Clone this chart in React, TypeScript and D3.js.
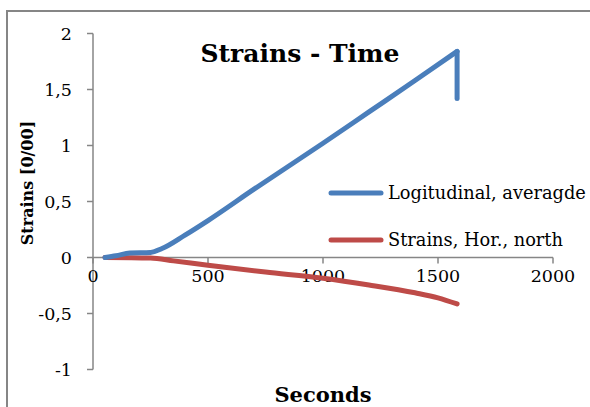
import React from "react";
import * as d3 from "d3";

// Time in seconds and measured strains (per mille)
const longTime = [52, 100, 160, 250, 300, 400, 500, 700, 1000, 1200, 1400, 1583, 1583];
const longStrain = [0, 0.015, 0.04, 0.045, 0.08, 0.2, 0.33, 0.61, 1.02, 1.3, 1.58, 1.84, 1.42];
const horTime = [52, 250, 350, 500, 750, 1000, 1200, 1400, 1500, 1583];
const horStrain = [0, -0.005, -0.03, -0.07, -0.13, -0.185, -0.245, -0.315, -0.36, -0.415];

const xTicks = [0, 500, 1000, 1500, 2000];
const yTicks = [-1, -0.5, 0, 0.5, 1, 1.5, 2];
const seriesNames = ["Logitudinal, averagde", "Strains, Hor., north"];
const seriesColors = ["#4A7EBB", "#BE4B48"];

const W = 590;
const H = 407;
const FONT = "'DejaVu Serif', serif";

export default function App() {
  const x = d3.scaleLinear().domain([0, 2000]).range([93, 553]);
  const y = d3.scaleLinear().domain([-1, 2]).range([369.5, 33.5]);
  const fmt = (v: number) => String(v).replace(".", ",");

  const smooth = d3
    .line<[number, number]>()
    .x((d) => x(d[0]))
    .y((d) => y(d[1]))
    .curve(d3.curveMonotoneX);
  const straight = d3
    .line<[number, number]>()
    .x((d) => x(d[0]))
    .y((d) => y(d[1]));

  const longPts: [number, number][] = longTime.map((t, i) => [t, longStrain[i]]);
  const horPts: [number, number][] = horTime.map((t, i) => [t, horStrain[i]]);
  // The final unloading drop is vertical; draw the rising part smoothly, then the drop
  const risePath = smooth(longPts.slice(0, -1)) || "";
  const dropPath = straight(longPts.slice(-2)) || "";
  const horPath = smooth(horPts) || "";

  const axisColor = "#868686";
  const lineProps = {
    fill: "none",
    strokeWidth: 5,
    strokeLinecap: "round" as const,
    strokeLinejoin: "round" as const,
  };

  return (
    <svg
      width={W}
      height={H}
      style={{ position: "absolute", left: 0, top: 0, background: "#fff" }}
    >
      {/* chart frame */}
      <rect x={7} y={11} width={W} height={H} fill="#fff" stroke={axisColor} strokeWidth={2} />

      {/* title */}
      <text x={300} y={62} textAnchor="middle" fontFamily={FONT} fontWeight="bold" fontSize={25}>
        Strains - Time
      </text>

      {/* y axis */}
      <line x1={x(0)} x2={x(0)} y1={y(-1)} y2={y(2)} stroke={axisColor} strokeWidth={1.5} />
      {yTicks.map((t) => (
        <g key={"y" + t}>
          <line x1={x(0) - 6} x2={x(0)} y1={y(t)} y2={y(t)} stroke={axisColor} strokeWidth={1.5} />
          <text x={72} y={y(t)} dy="0.35em" textAnchor="end" fontFamily={FONT} fontSize={17.5}>
            {fmt(t)}
          </text>
        </g>
      ))}

      {/* x axis at zero */}
      <line x1={x(0)} x2={x(2000)} y1={y(0)} y2={y(0)} stroke={axisColor} strokeWidth={1.5} />
      {xTicks.map((t) => (
        <g key={"x" + t}>
          <line x1={x(t)} x2={x(t)} y1={y(0)} y2={y(0) + 6} stroke={axisColor} strokeWidth={1.5} />
          <text x={x(t)} y={282} textAnchor="middle" fontFamily={FONT} fontSize={17.5}>
            {t}
          </text>
        </g>
      ))}

      {/* axis titles */}
      <text x={323} y={402} textAnchor="middle" fontFamily={FONT} fontWeight="bold" fontSize={21}>
        Seconds
      </text>
      <text
        transform={`translate(33, 183) rotate(-90)`}
        textAnchor="middle"
        fontFamily={FONT}
        fontWeight="bold"
        fontSize={16}
      >
        Strains [0/00]
      </text>

      {/* series */}
      <path d={horPath} stroke={seriesColors[1]} {...lineProps} />
      <path d={risePath} stroke={seriesColors[0]} {...lineProps} />
      <path d={dropPath} stroke={seriesColors[0]} {...lineProps} />

      {/* legend */}
      {seriesNames.map((name, i) => (
        <g key={name} transform={`translate(0, ${193 + i * 47})`}>
          <line x1={331} x2={381} y1={0} y2={0} stroke={seriesColors[i]} strokeWidth={5} strokeLinecap="round" />
          <text x={388} y={0} dy="0.35em" fontFamily={FONT} fontSize={17.8}>
            {name}
          </text>
        </g>
      ))}
    </svg>
  );
}
